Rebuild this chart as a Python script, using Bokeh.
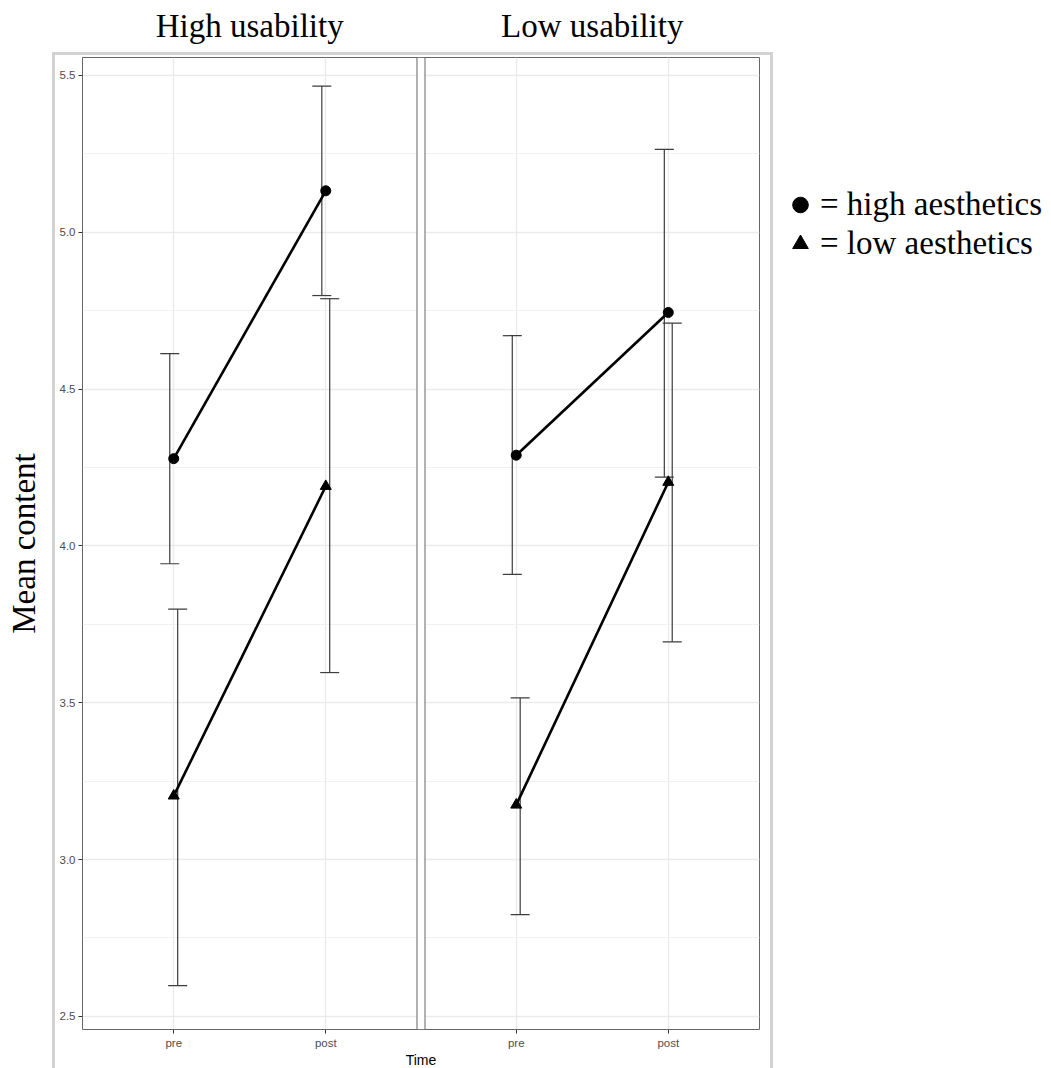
from bokeh.plotting import figure
from bokeh.models import (ColumnDataSource, FactorRange, Range1d, FixedTicker, CategoricalAxis,
                          BoxAnnotation, Legend, LegendItem, PrintfTickFormatter)
from bokeh.transform import dodge
from bokeh.embed import file_html
from bokeh.resources import INLINE

# ---------------- data ----------------
usability = ["High usability", "Low usability"]
times = ["pre", "post"]
# order: (High usability, pre), (High usability, post), (Low usability, pre), (Low usability, post)
high_aes_mean = [4.278, 5.132, 4.289, 4.744]
high_aes_lower = [3.943, 4.798, 3.909, 4.219]
high_aes_upper = [4.613, 5.466, 4.670, 5.264]
low_aes_mean = [3.203, 4.190, 3.174, 4.203]
low_aes_lower = [2.598, 3.596, 2.824, 3.694]
low_aes_upper = [3.798, 4.788, 3.515, 4.710]
y_ticks = [2.5, 3.0, 3.5, 4.0, 4.5, 5.0, 5.5]
y_minor_ticks = [2.75, 3.25, 3.75, 4.25, 4.75, 5.25]
legend_labels = ["= high aesthetics", "= low aesthetics"]

factors = [(u, t) for u in usability for t in times]

# ---------------- layout constants ----------------
GROUP_PAD = 0.2527      # gap between the two facets (synthetic units)
HALF_PAD = 0.1          # expansion at each outer edge
span = 2 * len(times) + GROUP_PAD
x_range = FactorRange(*factors, group_padding=GROUP_PAD, factor_padding=0.0,
                      range_padding=2 * HALF_PAD / span, range_padding_units="percent")
y_range = Range1d(2.458, 5.557)

FRAME = "#666666"
p = figure(x_range=x_range, y_range=y_range, frame_width=677, frame_height=972,
           min_border_left=82, min_border_right=290, min_border_top=57, min_border_bottom=39,
           output_backend="svg", toolbar_location=None, background_fill_color="white",
           border_fill_alpha=0.0)
p.outline_line_color = FRAME
p.outline_line_width = 1

# outer light-grey frame of the whole ggplot (drawn in the page behind the transparent border)
GREY = "linear-gradient(#d2d2d2, #d2d2d2)"
p.styles = {
    "background-color": "white",
    "background-image": f"{GREY}, {GREY}, {GREY}",
    "background-position": "52px 52px, 52px 52px, 770px 52px",
    "background-size": "3px 1100px, 721px 3px, 3px 1100px",
    "background-repeat": "no-repeat",
}

# grid
p.xgrid.grid_line_color = "#ebebeb"
p.xgrid.grid_line_width = 1.4
p.ygrid.grid_line_color = "#ebebeb"
p.ygrid.grid_line_width = 1.4
p.ygrid.minor_grid_line_color = "#f1f1f1"
p.ygrid.minor_grid_line_width = 1.0

# y axis
yax = p.yaxis[0]
yax.ticker = FixedTicker(ticks=y_ticks, minor_ticks=y_minor_ticks)
yax.formatter = PrintfTickFormatter(format="%.1f")
yax.axis_line_color = None
yax.major_tick_line_color = "#333333"
yax.major_tick_out = 4
yax.major_tick_in = 0
yax.minor_tick_line_color = None
yax.major_label_text_font = "Liberation Sans"
yax.major_label_text_font_size = "11.5px"
yax.major_label_text_color = "#4d4d4d"
yax.major_label_standoff = 3
yax.axis_label = "Mean content"
yax.axis_label_text_font = "Liberation Serif"
yax.axis_label_text_font_size = "33px"
yax.axis_label_text_font_style = "normal"
yax.axis_label_text_color = "black"
yax.axis_label_standoff = 15

# bottom x axis (pre / post) with the "Time" title
xax = p.xaxis[0]
xax.axis_line_color = None
xax.major_tick_line_color = "#333333"
xax.major_tick_out = 4
xax.major_tick_in = 0
xax.major_label_text_font = "Liberation Sans"
xax.major_label_text_font_size = "11.5px"
xax.major_label_text_color = "#4d4d4d"
xax.major_label_standoff = 3
xax.group_text_font_size = "0px"
xax.group_text_color = None
xax.separator_line_color = None
xax.axis_label = "Time"
xax.axis_label_text_font = "Liberation Sans"
xax.axis_label_text_font_size = "14px"
xax.axis_label_text_font_style = "normal"
xax.axis_label_text_color = "black"
xax.axis_label_standoff = 0

# top axis used as facet titles
tax = CategoricalAxis(axis_line_color=None, major_tick_line_color=None, minor_tick_line_color=None,
                      major_label_text_font_size="0px", major_label_text_color=None,
                      major_label_standoff=8, separator_line_color=None,
                      group_text_font="Liberation Serif", group_text_font_size="33px",
                      group_text_color="black", group_text_font_style="normal",
                      group_label_orientation="horizontal")
p.add_layout(tax, "above")

# white gap between the two facets, with the facet borders on each side
gap_l = len(times) + HALF_PAD
gap_r = len(times) + GROUP_PAD - HALF_PAD
p.add_layout(BoxAnnotation(left=gap_l, right=gap_r, fill_color="white", fill_alpha=1.0,
                           line_color=FRAME, line_alpha=1.0, line_width=1, level="overlay"))

# ---------------- data marks ----------------
DODGE = 0.026
CAP = 0.0625
series = [
    ("circle", high_aes_mean, high_aes_lower, high_aes_upper, -DODGE, 10),
    ("triangle", low_aes_mean, low_aes_lower, low_aes_upper, DODGE, 11),
]
point_renderers = []
for marker, mean, lower, upper, dx, size in series:
    src = ColumnDataSource(dict(x=factors, mean=mean, lower=lower, upper=upper))
    ex = dodge("x", dx, range=p.x_range)
    p.segment(x0=ex, x1=ex, y0="lower", y1="upper", source=src,
              line_color="#3c3c3c", line_width=1.2)
    for col in ("upper", "lower"):
        p.segment(x0=dodge("x", dx - CAP, range=p.x_range), x1=dodge("x", dx + CAP, range=p.x_range),
                  y0=col, y1=col, source=src, line_color="#3c3c3c", line_width=1.2)
    for u in usability:
        idx = [i for i, f in enumerate(factors) if f[0] == u]
        p.line(x=[factors[i] for i in idx], y=[mean[i] for i in idx],
               line_color="black", line_width=2.6)
    r = p.scatter("x", "mean", source=src, marker=marker, size=size,
                  fill_color="black", line_color="black")
    point_renderers.append(r)

# legend
legend = Legend(items=[LegendItem(label=legend_labels[0], renderers=[point_renderers[0]]),
                       LegendItem(label=legend_labels[1], renderers=[point_renderers[1]])],
                location=(21, 766), orientation="vertical",
                label_text_font="Liberation Serif", label_text_font_size="33px",
                label_text_color="black", glyph_width=40, glyph_height=39, label_height=39,
                label_standoff=0, padding=0, margin=0, spacing=0,
                border_line_color=None, background_fill_alpha=0.0)
p.add_layout(legend, "right")

open("out.html", "w").write(file_html(p, INLINE))
